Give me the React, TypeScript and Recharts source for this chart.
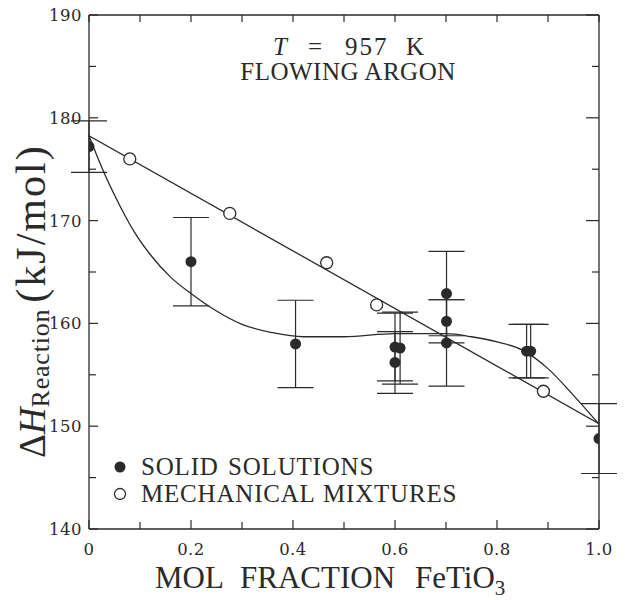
import { ComposedChart, Line, Scatter, ErrorBar, XAxis, YAxis } from 'recharts';

// ticks
const xTicks = [0, 0.1, 0.2, 0.3, 0.4, 0.5, 0.6, 0.7, 0.8, 0.9, 1.0];
const xTickLabels = ['0', '', '0.2', '', '0.4', '', '0.6', '', '0.8', '', '1.0'];
const yTicks = [140, 145, 150, 155, 160, 165, 170, 175, 180, 185, 190];
const yTickLabels = ['140', '', '150', '', '160', '', '170', '', '180', '', '190'];

// solid solutions (filled) with error bars
const solidX = [0, 0.2, 0.405, 0.6, 0.61, 0.6, 0.701, 0.701, 0.701, 0.858, 0.866, 1.0];
const solidY = [177.2, 166.0, 158.0, 157.7, 157.6, 156.2, 162.9, 160.2, 158.1, 157.3, 157.3, 148.8];
const solidErr = [2.5, 4.3, 4.25, 3.3, 3.5, 3.0, 4.1, 2.1, 4.2, 2.6, 2.6, 3.4];

// mechanical mixtures (open)
const mixX = [0.08, 0.276, 0.466, 0.564, 0.891];
const mixY = [176.0, 170.7, 165.9, 161.8, 153.4];

// fitted curve through the solid solutions
const curveX = [0, 0.03, 0.06, 0.09, 0.12, 0.16, 0.2, 0.25, 0.3, 0.36, 0.42, 0.5, 0.6, 0.7, 0.75, 0.8, 0.85, 0.9, 0.95, 1.0];
const curveY = [178.25, 174.6, 171.5, 168.8, 166.7, 164.5, 162.9, 161.2, 159.9, 159.1, 158.7, 158.7, 159.0, 159.0, 158.7, 158.2, 157.4, 155.6, 153.0, 150.2];

// straight mixing line
const lineX = [0, 1.0];
const lineY = [178.25, 150.25];

const solidData = solidX.map((x, i) => ({ x, y: solidY[i], err: solidErr[i] }));
const mixData = mixX.map((x, i) => ({ x, y: mixY[i] }));
const curveData = curveX.map((x, i) => ({ x, y: curveY[i] }));
const lineData = lineX.map((x, i) => ({ x, y: lineY[i] }));

const INK = '#2a2a2a';
const serif = { fontFamily: '"Liberation Serif", serif' };
const dejavu = { fontFamily: '"DejaVu Serif", serif' };

const bottomTick = (p: any) => {
  const label = xTickLabels[xTicks.indexOf(p.payload.value)];
  return (
    <g>
      <line x1={p.x} x2={p.x} y1={p.y} y2={p.y - (label ? 9 : 7)} stroke={INK} strokeWidth={1.2} />
      {label ? (
        <text x={p.x} y={p.y + 26} textAnchor="middle" style={dejavu} fontSize={16.5} fill={INK} letterSpacing={0.5}>
          {label}
        </text>
      ) : null}
    </g>
  );
};

const topTick = (p: any) => (
  <line x1={p.x} x2={p.x} y1={p.y} y2={p.y + 7} stroke={INK} strokeWidth={1.2} />
);

const leftTick = (p: any) => {
  const label = yTickLabels[yTicks.indexOf(p.payload.value)];
  return (
    <g>
      <line x1={p.x} x2={p.x + (label ? 9 : 7)} y1={p.y} y2={p.y} stroke={INK} strokeWidth={1.2} />
      {label ? (
        <text x={p.x - 7} y={p.y} dy="0.36em" textAnchor="end" style={dejavu} fontSize={16.5} fill={INK} letterSpacing={0.5}>
          {label}
        </text>
      ) : null}
    </g>
  );
};

const rightTick = (p: any) => {
  const label = yTickLabels[yTicks.indexOf(p.payload.value)];
  return <line x1={p.x} x2={p.x - (label ? 13 : 7)} y1={p.y} y2={p.y} stroke={INK} strokeWidth={1.2} />;
};

const filledDot = (p: any) => <circle cx={p.cx} cy={p.cy} r={5.5} fill={INK} />;
const openDot = (p: any) => <circle cx={p.cx} cy={p.cy} r={6} fill="#fff" stroke={INK} strokeWidth={1.3} />;

export default function App() {
  return (
    <div style={{ marginTop: -8 }}>
      <ComposedChart width={617} height={600} margin={{ top: 14, right: 25, bottom: 70, left: 80 }}>
        <XAxis
          xAxisId="b"
          dataKey="x"
          type="number"
          domain={[0, 1]}
          allowDataOverflow
          ticks={xTicks}
          interval={0}
          height={1}
          tickSize={0}
          tickMargin={0}
          tickLine={false}
          tick={bottomTick}
          axisLine={{ stroke: INK, strokeWidth: 1.3 }}
        />
        <XAxis
          xAxisId="t"
          orientation="top"
          dataKey="x"
          type="number"
          domain={[0, 1]}
          allowDataOverflow
          ticks={xTicks}
          interval={0}
          height={1}
          tickSize={0}
          tickMargin={0}
          tickLine={false}
          tick={topTick}
          axisLine={{ stroke: INK, strokeWidth: 1.3 }}
        />
        <YAxis
          yAxisId="l"
          dataKey="y"
          type="number"
          domain={[140, 190]}
          allowDataOverflow
          ticks={yTicks}
          interval={0}
          width={1}
          tickSize={0}
          tickMargin={0}
          tickLine={false}
          tick={leftTick}
          axisLine={{ stroke: INK, strokeWidth: 1.3 }}
        />
        <YAxis
          yAxisId="r"
          orientation="right"
          dataKey="y"
          type="number"
          domain={[140, 190]}
          allowDataOverflow
          ticks={yTicks}
          interval={0}
          width={1}
          tickSize={0}
          tickMargin={0}
          tickLine={false}
          tick={rightTick}
          axisLine={{ stroke: INK, strokeWidth: 1.3 }}
        />

        <Line
          xAxisId="t"
          yAxisId="r"
          data={lineData}
          dataKey="y"
          type="linear"
          stroke={INK}
          strokeWidth={1.3}
          dot={false}
          activeDot={false}
          isAnimationActive={false}
        />
        <Line
          xAxisId="b"
          yAxisId="l"
          data={curveData}
          dataKey="y"
          type="monotone"
          stroke={INK}
          strokeWidth={1.3}
          dot={false}
          activeDot={false}
          isAnimationActive={false}
        />
        <Scatter xAxisId="b" yAxisId="l" data={mixData} dataKey="y" shape={openDot} isAnimationActive={false} />
        <Scatter xAxisId="b" yAxisId="l" data={solidData} dataKey="y" shape={filledDot} isAnimationActive={false}>
          <ErrorBar dataKey="err" direction="y" width={18} stroke={INK} strokeWidth={1.2} />
        </Scatter>

        <g fill={INK}>
          {/* annotation */}
          <text y={55} fontSize={25} style={serif}>
            <tspan x={265} fontStyle="italic">T</tspan>
            <tspan x={300}>=</tspan>
            <tspan x={337} letterSpacing={2}>957</tspan>
            <tspan x={398}>K</tspan>
          </text>
          <text x={340} y={80} fontSize={25} textAnchor="middle" letterSpacing={0.5} style={serif}>
            FLOWING ARGON
          </text>

          {/* legend */}
          <circle cx={112} cy={467} r={5.5} fill={INK} />
          <text y={475} fontSize={25} letterSpacing={0.8} style={serif}>
            <tspan x={133}>SOLID</tspan>
            <tspan x={220}>SOLUTIONS</tspan>
          </text>
          <circle cx={112} cy={494} r={5.5} fill="#fff" stroke={INK} strokeWidth={1.3} />
          <text y={502} fontSize={25} letterSpacing={0.8} style={serif}>
            <tspan x={133}>MECHANICAL</tspan>
            <tspan x={315}>MIXTURES</tspan>
          </text>

          {/* x title */}
          <text y={588} fontSize={31} style={serif}>
            <tspan x={147}>MOL</tspan>
            <tspan x={232}>FRACTION</tspan>
            <tspan x={407}>FeTiO</tspan>
            <tspan fontSize={21} dy={7}>3</tspan>
          </text>

          {/* y title */}
          <text transform="translate(37, 458) rotate(-90)" fontSize={42} style={serif}>
            <tspan fontSize={37}>Δ</tspan>
            <tspan fontSize={37} fontStyle="italic">H</tspan>
            <tspan fontSize={26} dy={4} letterSpacing={0.8}>Reaction</tspan>
            <tspan dy={-4} dx={6} letterSpacing={2}>(kJ/mol)</tspan>
          </text>
        </g>
      </ComposedChart>
    </div>
  );
}
